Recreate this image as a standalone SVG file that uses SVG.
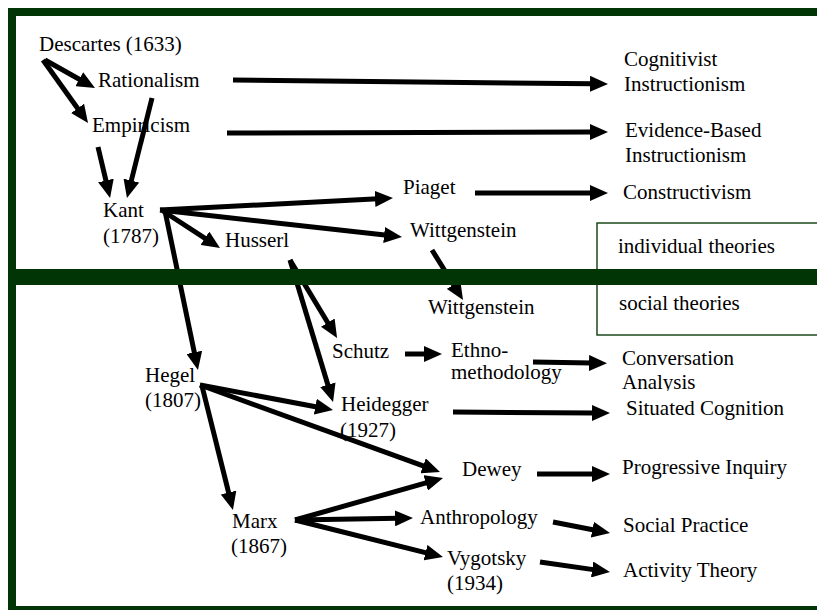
<svg xmlns="http://www.w3.org/2000/svg" width="817" height="610" viewBox="0 0 817 610">
<style>
text{font-family:"Liberation Serif","Times New Roman",serif;font-size:21px;fill:#000}
.a{stroke:#000;stroke-width:5;fill:none;marker-end:url(#ah)}
.frame{fill:#023505}
</style>
<defs>
<marker id="ah" markerUnits="userSpaceOnUse" markerWidth="18" markerHeight="16" refX="3" refY="8" orient="auto">
<path d="M0,0 L18,8 L0,16 z" fill="#000"/>
</marker>
</defs>
<rect width="817" height="610" fill="#fff"/>
<g id="frame">
<rect class="frame" x="8" y="8" width="809" height="8"/>
<rect class="frame" x="8" y="8" width="8" height="602"/>
<rect class="frame" x="8" y="606" width="809" height="4"/>
</g>
<g id="legend">
<rect x="597" y="223" width="240" height="112" fill="#fff" stroke="#1c4a1c" stroke-width="1.5"/>
<text x="618" y="253">individual theories</text>
<text x="619" y="310">social theories</text>
</g>
<g id="descartes"><text x="39" y="51">Descartes (1633)</text></g>
<g id="rationalism"><text x="98" y="87">Rationalism</text></g>
<g id="empiricism"><text x="92" y="132">Empiricism</text></g>
<g id="kant"><text x="103" y="217">Kant</text><text x="103" y="243">(1787)</text></g>
<g id="cognitivist"><text x="624" y="66">Cognitivist</text><text x="624" y="91">Instructionism</text></g>
<g id="evidence"><text x="625" y="137">Evidence-Based</text><text x="625" y="162">Instructionism</text></g>
<g id="constructivism"><text x="623" y="199">Constructivism</text></g>
<g id="piaget"><text x="403" y="194">Piaget</text></g>
<g id="wittgenstein1"><text x="410" y="237">Wittgenstein</text></g>
<g id="husserl"><text x="225" y="247">Husserl</text></g>
<g id="wittgenstein2"><text x="428" y="314">Wittgenstein</text></g>
<g id="schutz"><text x="332" y="358">Schutz</text></g>
<g id="ethno"><text x="451" y="357">Ethno-</text><text x="451" y="379">methodology</text></g>
<g id="conversation"><text x="622" y="365">Conversation</text><text x="622" y="389">Analysis</text></g>
<g id="hegel"><text x="145" y="382">Hegel</text><text x="145" y="407">(1807)</text></g>
<g id="heidegger"><text x="341" y="411">Heidegger</text><text x="340" y="437">(1927)</text></g>
<g id="situated"><rect x="618" y="391" width="180" height="26" fill="#fff"/><text x="626" y="415">Situated Cognition</text></g>
<g id="dewey"><text x="462" y="476">Dewey</text></g>
<g id="progressive"><text x="622" y="474">Progressive Inquiry</text></g>
<g id="marx"><text x="232" y="528">Marx</text><text x="231" y="553">(1867)</text></g>
<g id="anthropology"><text x="420" y="524">Anthropology</text></g>
<g id="social-practice"><text x="623" y="532">Social Practice</text></g>
<g id="vygotsky"><text x="447" y="565">Vygotsky</text><text x="447" y="590">(1934)</text></g>
<g id="activity"><text x="623" y="577">Activity Theory</text></g>
<g id="connectors">
<line class="a" x1="45" y1="60" x2="81.9" y2="80.7"/>
<line class="a" x1="43" y1="60" x2="79.3" y2="110.8"/>
<line class="a" x1="98" y1="147" x2="106.6" y2="183.4"/>
<line class="a" x1="152" y1="98" x2="130.6" y2="183.5"/>
<line class="a" x1="233" y1="80" x2="593" y2="83.8"/>
<line class="a" x1="227" y1="133" x2="593" y2="132"/>
<line class="a" x1="475" y1="193" x2="593" y2="193"/>
<line class="a" x1="160" y1="210" x2="378" y2="198.8"/>
<line class="a" x1="160" y1="210" x2="387.1" y2="235.3"/>
<line class="a" x1="163" y1="211" x2="207.4" y2="239.8"/>
<line class="a" x1="165" y1="211" x2="194.9" y2="355.3"/>
<line class="a" x1="432" y1="250" x2="455.1" y2="287.2"/>
<line class="a" x1="290" y1="260" x2="329.3" y2="325.2"/>
<line class="a" x1="290" y1="260" x2="328.7" y2="387.6"/>
<line class="a" x1="405" y1="354" x2="427" y2="354"/>
<line class="a" x1="533" y1="362" x2="592" y2="363"/>
<line class="a" x1="200" y1="385" x2="318.3" y2="407.2"/>
<line class="a" x1="453" y1="412" x2="595" y2="413"/>
<line class="a" x1="200" y1="385" x2="425.9" y2="466.9"/>
<line class="a" x1="202" y1="386" x2="229.3" y2="495.4"/>
<line class="a" x1="537" y1="474" x2="595" y2="474"/>
<line class="a" x1="295" y1="520" x2="428.6" y2="482.1"/>
<line class="a" x1="295" y1="520" x2="398" y2="518.3"/>
<line class="a" x1="295" y1="520" x2="428.4" y2="553.4"/>
<line class="a" x1="553" y1="522" x2="595.3" y2="530.2"/>
<line class="a" x1="540" y1="562" x2="595.1" y2="569.9"/>
</g>
<g id="divider">
<rect class="frame" x="16" y="269" width="801" height="16"/>
</g>
</svg>
